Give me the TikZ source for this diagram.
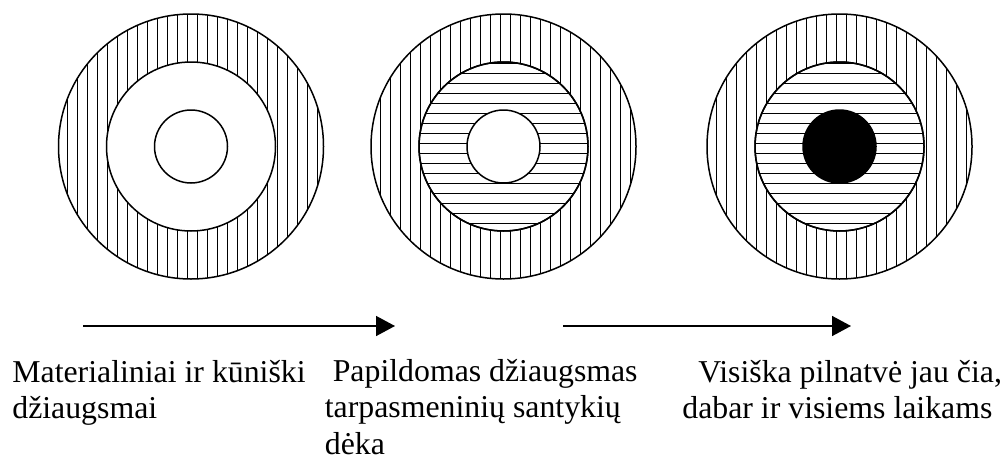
\documentclass[tikz,border=0pt]{standalone}
\usepackage{fontspec}
\setmainfont{Liberation Serif}
\usetikzlibrary{arrows.meta}
\begin{document}
\begin{tikzpicture}[>={Triangle[length=.38cm,width=.4cm]},
  rim/.style={line width=.03cm},
  hatch/.style={line width=.022cm},
  caption/.style={anchor=base west, align=left, inner sep=0pt,
    font=\fontsize{18.1}{20.5}\selectfont}]
\useasboundingbox (0,0) rectangle (20.1,9.14);
% three targets: vertical hatching in the outer ring
\foreach \cx/\nm in {3.82/ta, 10.07/tb, 16.79/tc}{
  \coordinate (\nm) at (\cx,6.21);
  \begin{scope}
    \clip (\nm) circle (2.65);
    \foreach \k in {-14,...,14}
      \draw[hatch, shift={(\nm)}] ({\k*.2-.066},-3) -- ++(0,6);
  \end{scope}
  \draw[rim, fill=white] (\nm) circle (1.69);
  \draw[rim] (\nm) circle (2.65);
}
% horizontal hatching in the middle ring
\foreach \nm in {tb, tc}{
  \begin{scope}
    \clip (\nm) circle (1.69);
    \foreach \k in {-9,...,9}
      \draw[hatch, shift={(\nm)}] (-2,{\k*.2+.054}) -- ++(4,0);
  \end{scope}
  \draw[rim] (\nm) circle (1.69);
}
\draw[rim, fill=white] (ta) circle (.73);
\draw[rim, fill=white] (tb) circle (.73);
\draw[rim, fill=black] (tc) circle (.73);
% arrows
\coordinate (a1) at (1.66,2.62);
\coordinate (a2) at (7.90,2.62);
\coordinate (b1) at (11.26,2.62);
\coordinate (b2) at (17.02,2.62);
\draw[->, rim] (a1) -- (a2);
\draw[->, rim] (b1) -- (b2);
% captions (anchored at the baseline of the last line)
\node[caption] (la) at (.24,.774) {Materialiniai ir kūniški\\džiaugsmai};
\node[caption] (lb) at (6.49,.06) {\ Papildomas džiaugsmas\\tarpasmeninių santykių\\dėka};
\node[caption] (lc) at (13.64,.774) {\ \ Visiška pilnatvė jau čia,\\dabar ir visiems laikams};
\end{tikzpicture}
\end{document}
